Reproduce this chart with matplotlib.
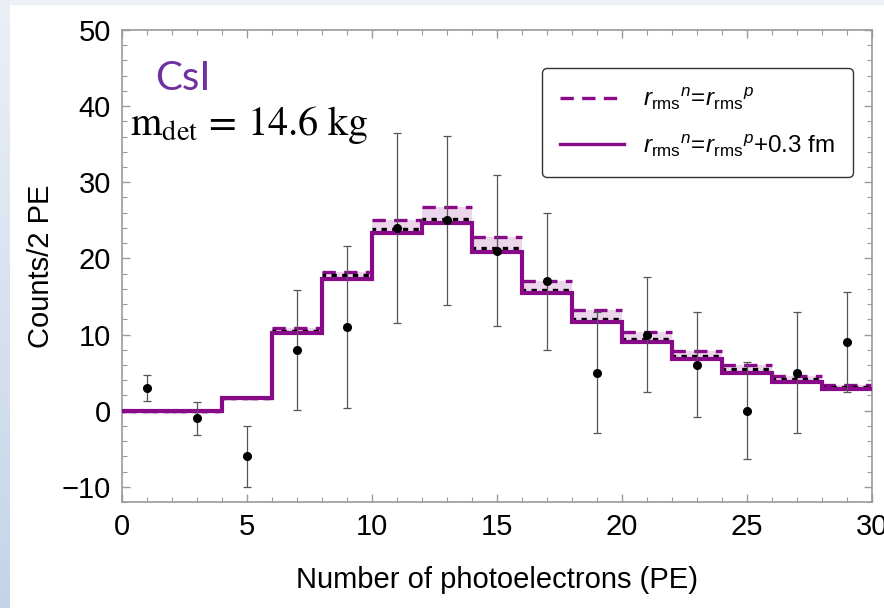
import numpy as np
import matplotlib
matplotlib.use("Agg")
import matplotlib.pyplot as plt
from matplotlib import font_manager

# bin edges of the PE histogram (2 PE per bin)
edges = np.arange(0, 32, 2)

# predicted spectra, one value per bin
pred_low = [0, 0, 1.6, 10.2, 17.3, 23.4, 24.7, 20.8, 15.4, 11.6, 9.0, 6.8, 5.0, 3.7, 2.8]
pred_mid = [0, 0, 1.6, 10.5, 17.8, 23.9, 25.2, 21.4, 15.8, 12.1, 9.4, 7.2, 5.5, 4.1, 3.1]
pred_high = [0, 0, 1.7, 10.9, 18.2, 25.0, 26.7, 22.8, 17.0, 13.2, 10.3, 7.9, 6.0, 4.6, 3.4]

# measured counts with errors
data_x = [1, 3, 5, 7, 9, 11, 13, 15, 17, 19, 21, 23, 25, 27, 29]
data_y = [3.0, -1.0, -6.0, 8.0, 11.0, 24.0, 25.0, 21.0, 17.0, 5.0, 10.0, 6.0, 0.0, 5.0, 9.0]
data_err = [1.7, 2.2, 4.0, 7.9, 10.6, 12.5, 11.1, 9.9, 9.0, 7.9, 7.5, 6.9, 6.4, 8.0, 6.6]


def pick_font(names):
    for n in names:
        try:
            font_manager.findfont(n, fallback_to_default=False)
            return n
        except ValueError:
            continue
    return "DejaVu Sans"


narrow = pick_font(["Liberation Sans Narrow", "Liberation Sans", "DejaVu Sans"])
plt.rcParams["font.family"] = [narrow, "DejaVu Sans"]
plt.rcParams["mathtext.fontset"] = "custom"
plt.rcParams["mathtext.rm"] = narrow
plt.rcParams["mathtext.it"] = narrow + ":italic"

purple = "#880a88"

fig = plt.figure(figsize=(8.84, 6.08), dpi=100, facecolor="white")

# slide background strips
strip = fig.add_axes([0, 0, 10 / 884, 1])
grad = np.linspace(0, 1, 256).reshape(-1, 1)
cmap = matplotlib.colors.LinearSegmentedColormap.from_list("bg", ["#c4d4e8", "#ebf0f7"])
strip.imshow(grad, aspect="auto", cmap=cmap, origin="lower", extent=[0, 1, 0, 1])
strip.axis("off")
fig.patches.append(plt.Rectangle((10 / 884, 1 - 4 / 608), 1, 4 / 608,
                                 transform=fig.transFigure, color="#eef2f7", zorder=0))

ax = fig.add_axes([122 / 884, 106 / 608, 750 / 884, 472 / 608])

# band between the two predictions
ax.stairs(pred_high, edges, baseline=pred_low, fill=True, color="#ecd6ec", zorder=1)
ax.hlines(pred_high, edges[:-1], edges[1:], colors=purple, linestyles=(0, (4, 2.5)),
          linewidth=2.4, zorder=2)
ax.hlines(pred_mid, edges[:-1], edges[1:], colors="black", linestyles=(0.5, (1.6, 1.6)),
          linewidth=2.4, zorder=3)
ax.stairs(pred_low, edges, baseline=None, color=purple, linewidth=3.0, zorder=4)

ax.errorbar(data_x, data_y, yerr=data_err, fmt="o", color="black", markersize=5.5,
            ecolor="#555555", elinewidth=0.9, capsize=3, capthick=0.9, zorder=5)

ax.set_xlim(0, 30)
ax.set_ylim(-12, 50)
ax.set_xticks(np.arange(0, 31, 5))
ax.set_xticks(np.arange(0, 31, 1), minor=True)
ax.set_yticks(np.arange(-10, 51, 10))
ax.set_yticks(np.arange(-12, 51, 2), minor=True)
ax.set_yticklabels(["\u221210" if t < 0 else str(t) for t in range(-10, 51, 10)])

for s in ax.spines.values():
    s.set_color("#9a9a9a")
    s.set_linewidth(1.2)
ax.tick_params(which="both", direction="in", top=True, right=True, color="#9a9a9a",
               labelsize=21, pad=8)
ax.tick_params(which="major", length=6, width=1)
ax.tick_params(which="minor", length=3.5, width=0.8)

ax.set_xlabel("Number of photoelectrons (PE)", fontsize=21, labelpad=18)
ax.set_ylabel("Counts/2 PE", fontsize=21, labelpad=5)

# legend entries
h1, = ax.plot([], [], color=purple, linewidth=2.4, linestyle=(0, (4, 2.5)))
h2, = ax.plot([], [], color=purple, linewidth=2.4)
leg = ax.legend([h1, h2],
                [r"$r_{\mathrm{rms}}{}^{n}\!=\!r_{\mathrm{rms}}{}^{p}$",
                 r"$r_{\mathrm{rms}}{}^{n}\!=\!r_{\mathrm{rms}}{}^{p}$+0.3 fm"],
                loc="upper right", bbox_to_anchor=(0.975, 0.92), borderaxespad=0,
                fontsize=17.5, handlelength=2.6, handletextpad=0.8, labelspacing=0.85,
                borderpad=0.75, fancybox=True, framealpha=1)
leg.get_frame().set_edgecolor("#333333")
leg.get_frame().set_linewidth(1.0)

fig.text(155 / 884, 1 - 79 / 608, "CsI", color="#7030a0", fontsize=29,
         family=["Lato", "DejaVu Sans"], va="center", ha="left")
fig.text(130 / 884, 1 - 125 / 608, r"$\mathrm{m_{det}}\,=\,14.6\ \mathrm{kg}$",
         fontsize=29, math_fontfamily="stix", va="center", ha="left")

fig.savefig("out.png", dpi=100, facecolor=fig.get_facecolor())
